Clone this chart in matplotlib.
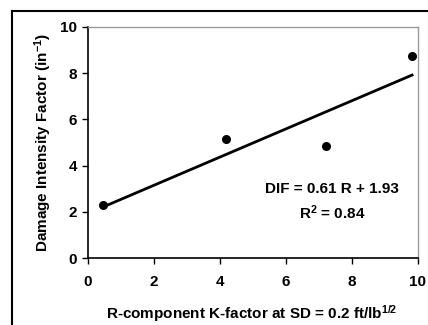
import matplotlib
matplotlib.use("Agg")
import matplotlib.pyplot as plt
from matplotlib.lines import Line2D

plt.rcParams["font.family"] = ["Liberation Sans", "DejaVu Sans"]
plt.rcParams["font.weight"] = "bold"
plt.rcParams["mathtext.default"] = "regular"

# measured points
r_kfactor = [0.45, 4.18, 7.21, 9.82]
dif = [2.30, 5.15, 4.87, 8.74]

# fitted line: DIF = 0.61 R + 1.93
slope, intercept = 0.61, 1.93
fit_x = [min(r_kfactor), max(r_kfactor)]
fit_y = [slope * x + intercept for x in fit_x]

ticks = [0, 2, 4, 6, 8, 10]
FS = 11

fig = plt.figure(figsize=(4.28, 3.25), dpi=100)
ax = fig.add_axes([88 / 428, 1 - 258 / 325, 330 / 428, 231 / 325])

ax.plot(fit_x, fit_y, color="black", lw=2)
ax.scatter(r_kfactor, dif, s=30, color="black", zorder=3)

ax.set_xlim(0, 10)
ax.set_ylim(0, 10)
ax.set_xticks(ticks)
ax.set_yticks(ticks)
ax.tick_params(labelsize=FS, length=4, width=1, direction="out")
ax.tick_params(axis="x", pad=8)
ax.tick_params(axis="y", pad=4)
for lab in ax.get_xticklabels() + ax.get_yticklabels():
    lab.set_fontweight("bold")

for side in ("left", "bottom"):
    ax.spines[side].set_color("black")
    ax.spines[side].set_linewidth(1.2)
for side in ("top", "right"):
    ax.spines[side].set_color("#999999")
    ax.spines[side].set_linewidth(1)

ax.set_xlabel("R-component K-factor at SD = 0.2 ft/lb$^{1/2}$",
              fontsize=FS, fontweight="bold", va="center")
ax.set_ylabel("Damage Intensity Factor (in$^{-1}$)",
              fontsize=FS, fontweight="bold", va="center")
ax.xaxis.set_label_coords(0.497, -0.24)
ax.yaxis.set_label_coords(-0.136, 0.5)

ax.text(7.4, 3.0, "DIF = 0.61 R + 1.93", ha="center", va="center",
        fontsize=FS, fontweight="bold")
ax.text(7.4, 1.95, "R$^{2}$ = 0.84", ha="center", va="center",
        fontsize=FS, fontweight="bold")

# outer chart frame (left and top edges visible)
fig.add_artist(Line2D([12 / 428, 12 / 428], [0, 1 - 11 / 325],
                      transform=fig.transFigure, color="black", lw=1.5))
fig.add_artist(Line2D([12 / 428, 1], [1 - 11 / 325, 1 - 11 / 325],
                      transform=fig.transFigure, color="black", lw=1.5))

fig.savefig("out.png", dpi=100)
